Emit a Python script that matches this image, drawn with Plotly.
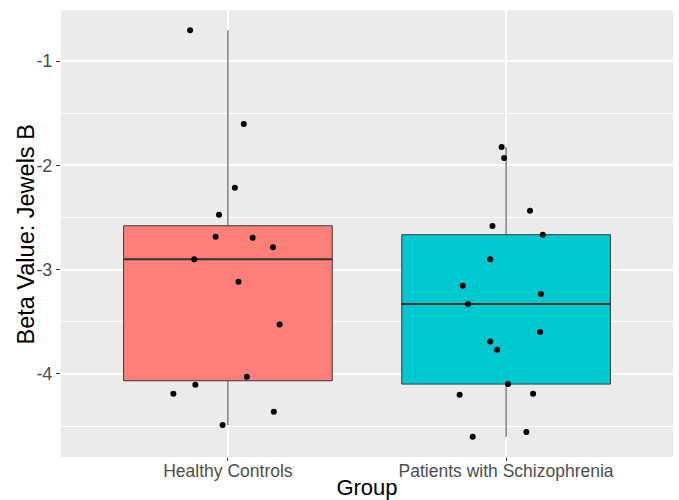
import numpy as np
import plotly.graph_objects as go

# ---------------- data ----------------
groups = ["Healthy Controls", "Patients with Schizophrenia"]

healthy_values = [-0.706, -1.604, -2.215, -2.474, -2.685, -2.694, -2.786, -2.901,
                  -3.116, -3.525, -4.027, -4.103, -4.190, -4.362, -4.490]
healthy_jitter = [-0.136, 0.057, 0.025, -0.032, -0.044, 0.089, 0.162, -0.121,
                  0.038, 0.186, 0.068, -0.117, -0.196, 0.165, -0.019]

schizo_values = [-1.825, -1.930, -2.435, -2.582, -2.665, -2.901, -3.154, -3.234,
                 -3.330, -3.598, -3.688, -3.768, -4.097, -4.199, -4.190, -4.602, -4.557]
schizo_jitter = [-0.016, -0.007, 0.086, -0.049, 0.132, -0.057, -0.156, 0.125,
                 -0.137, 0.122, -0.057, -0.032, 0.007, -0.167, 0.097, -0.120, 0.073]

fill_colors = ["#FD7F7A", "#00C8CF"]
y_ticks = [-1, -2, -3, -4]
y_minor = [-1.5, -2.5, -3.5, -4.5]

# ---------------- figure ----------------
fig = go.Figure()
box_width = 0.75
series = [(healthy_values, healthy_jitter), (schizo_values, schizo_jitter)]

for i, ((vals, jit), col) in enumerate(zip(series, fill_colors)):
    pos = i + 1
    v = np.array(vals)
    q1, med, q3 = np.percentile(v, [25, 50, 75])
    iqr = q3 - q1
    lo = v[v >= q1 - 1.5 * iqr].min()
    hi = v[v <= q3 + 1.5 * iqr].max()
    fig.add_trace(go.Box(
        x=[pos], q1=[q1], median=[med], q3=[q3],
        lowerfence=[lo], upperfence=[hi],
        width=box_width, fillcolor=col,
        line=dict(color="#3a3a3a", width=1),
        whiskerwidth=0, boxpoints=False, hoverinfo="skip",
    ))
    # thicker median line (ggplot fatten)
    fig.add_trace(go.Scatter(
        x=[pos - box_width / 2, pos + box_width / 2], y=[med, med],
        mode="lines", line=dict(color="#333333", width=2),
        hoverinfo="skip",
    ))
    fig.add_trace(go.Scatter(
        x=pos + np.array(jit), y=v, mode="markers",
        marker=dict(color="black", size=6),
        hoverinfo="skip",
    ))

font_family = "Liberation Sans, Arial, sans-serif"
fig.update_layout(
    width=679, height=500,
    margin=dict(l=61, r=6, t=10, b=43),
    plot_bgcolor="#EBEBEB", paper_bgcolor="white",
    showlegend=False,
    font=dict(family=font_family),
    xaxis=dict(
        range=[0.4, 2.6], tickmode="array", tickvals=[1, 2], ticktext=groups,
        showgrid=True, gridcolor="white", gridwidth=1.5, zeroline=False,
        ticks="outside", ticklen=3, tickcolor="#333333", tickwidth=1,
        tickfont=dict(size=17.5, color="#4D4D4D"),
        ticklabelstandoff=-5,
        title=dict(text="Group", font=dict(size=22, color="black"), standoff=5),
        automargin=False, showline=False,
    ),
    yaxis=dict(
        range=[-4.796, -0.511], tickmode="array", tickvals=y_ticks,
        ticktext=[str(t) for t in y_ticks],
        showgrid=True, gridcolor="white", gridwidth=1.5, zeroline=False,
        ticks="outside", ticklen=4, tickcolor="#333333", tickwidth=1,
        tickfont=dict(size=18, color="#4D4D4D"),
        minor=dict(tickvals=y_minor, showgrid=True, gridcolor="white",
                   gridwidth=0.7, ticks=""),
        automargin=False, showline=False,
    ),
    annotations=[dict(
        text="Beta Value: Jewels B", textangle=-90,
        xref="paper", yref="paper", x=0, y=0.5,
        xanchor="center", yanchor="middle", xshift=-36, yshift=-1,
        showarrow=False, font=dict(size=23.5, color="black"),
    )],
)

fig.write_html("out.html", config={"displayModeBar": False},
               post_script="document.body.style.margin='0';")
